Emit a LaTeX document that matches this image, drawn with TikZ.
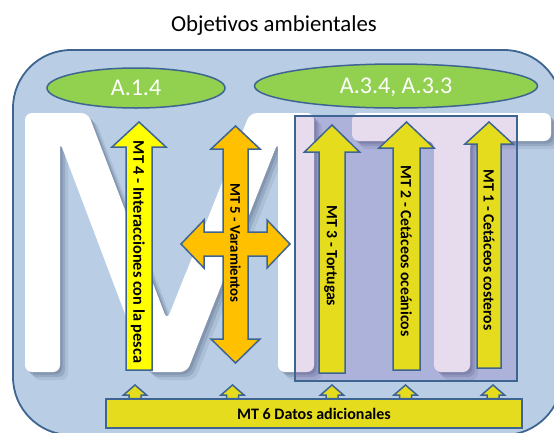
\documentclass[tikz,border=0pt]{standalone}
\usepackage{fontspec}
\setmainfont{Carlito}
\usetikzlibrary{shapes.geometric}
\definecolor{bgblue}{HTML}{B9CDE5}
\definecolor{lineblue}{HTML}{3E6591}
\definecolor{leaf}{HTML}{92D050}
\definecolor{yel}{HTML}{FFFF00}
\definecolor{org}{HTML}{FFC000}
\definecolor{dyel}{HTML}{E6DC1E}
\definecolor{purp}{HTML}{7030A0}
\definecolor{shade}{HTML}{4A5A75}
% up arrow: #1 cx, #2 tip y, #3 head base y, #4 half head, #5 half shaft, #6 bottom y
\newcommand{\uparrowpath}[6]{(#1,#2) -- ({#1+#4},#3) -- ({#1+#5},#3) -- ({#1+#5},#6) -- ({#1-#5},#6) -- ({#1-#5},#3) -- ({#1-#4},#3) -- cycle}
% big letters as outlines
\newcommand{\Mpath}{(25,372) -- (25,113) -- (88,113) -- (167,320) -- (250,113) -- (314,113) -- (314,372) -- (278,372) -- (278,142) -- (187,372) -- (147,372) -- (60,142) -- (60,372) -- cycle}
\newcommand{\Tpath}{(352,113) -- (551,113) -- (551,141) -- (470,141) -- (470,372) -- (434,372) -- (434,141) -- (352,141) -- cycle}
\begin{document}
\begin{tikzpicture}[x=1pt,y=-1pt,
  arrowbox/.style={draw=lineblue, line width=1.5pt, line join=miter},
  lab/.style={font=\bfseries\fontsize{15.7}{15.7}\selectfont, inner sep=0pt, text depth=0pt, rotate=-90},
  goal/.style={ellipse, draw=lineblue, fill=leaf, line width=1.5pt, inner sep=0pt, text=white, text depth=0pt, font=\fontsize{24}{24}\selectfont},
  letterbody/.style={fill=white, rounded corners=7pt},
  lettershadow/.style={fill=shade, rounded corners=7pt}]
\useasboundingbox (0,0) rectangle (554,432);
\fill[white] (0,0) rectangle (554,432);
% title
\node[font=\fontsize{22.8}{22.8}\selectfont, inner sep=0pt] (title) at (274,26) {Objetivos ambientales};
% outer container
\draw[lineblue, line width=1.8pt, fill=bgblue, rounded corners=58pt] (13,50) rectangle (562,435);
% goals
\node[goal, minimum width=178pt, minimum height=40pt] (a14) at (136,88) {A.1.4};
\node[goal, minimum width=283pt, minimum height=44pt] (a34) at (396,86) {A.3.4, A.3.3};
% big letters M T with soft shadow
\begin{scope}[shift={(8,8)}]
  \fill[lettershadow, opacity=0.12] \Mpath;
  \fill[lettershadow, opacity=0.12] \Tpath;
\end{scope}
\begin{scope}[shift={(5,5)}]
  \fill[lettershadow, opacity=0.2] \Mpath;
  \fill[lettershadow, opacity=0.2] \Tpath;
\end{scope}
\begin{scope}[shift={(2.5,2.5)}]
  \fill[lettershadow, opacity=0.25] \Mpath;
  \fill[lettershadow, opacity=0.25] \Tpath;
\end{scope}
\fill[letterbody] \Mpath;
\fill[letterbody] \Tpath;
% purple overlay
\draw[lineblue, line width=1.5pt, fill=purp, fill opacity=0.17] (295,116) rectangle (517,381);
% MT4
\draw[arrowbox, fill=yel] \uparrowpath{139}{122}{147}{27}{13}{370};
\node[lab, font=\bfseries\fontsize{16.3}{16.3}\selectfont] (t4) at (139,252) {MT 4 - Interacciones con la pesca};
% MT5 quad arrow
\draw[arrowbox, fill=org] (235.5,126) -- (260,149) -- (248,149) -- (248,232) -- (267,232) -- (267,220) -- (290,244) -- (267,268) -- (267,256) -- (248,256) -- (248,339) -- (260,339) -- (235.5,363) -- (211,339) -- (223,339) -- (223,256) -- (204,256) -- (204,268) -- (181,244) -- (204,220) -- (204,232) -- (223,232) -- (223,149) -- (211,149) -- cycle;
\node[lab, font=\bfseries\fontsize{14.8}{14.8}\selectfont] (t5) at (235.5,243) {MT 5 - Varamientos};
% MT3, MT2, MT1
\draw[arrowbox, fill=dyel] \uparrowpath{332}{125}{152}{27.5}{13}{373};
\node[lab] (t3) at (332,256) {MT 3 - Tortugas};
\draw[arrowbox, fill=dyel] \uparrowpath{406.5}{122}{148}{27.5}{13.5}{370};
\node[lab] (t2) at (406.5,251) {MT 2 - Cetáceos oceánicos};
\draw[arrowbox, fill=dyel] \uparrowpath{489}{122}{144}{24}{12}{368};
\node[lab] (t1) at (489,250) {MT 1 - Cetáceos costeros};
% MT6
\node[draw=lineblue, fill=dyel, line width=1.5pt, minimum width=416pt, minimum height=29pt, inner sep=0pt,
  font=\bfseries\fontsize{16}{16}\selectfont] (mt6) at (314,413.5) {MT 6 Datos adicionales};
\foreach \xx in {135,232.5,332,405.5,493}{
  \draw[arrowbox, fill=dyel] \uparrowpath{\xx}{385}{395}{11.5}{6}{398.5};
}
\end{tikzpicture}
\end{document}
